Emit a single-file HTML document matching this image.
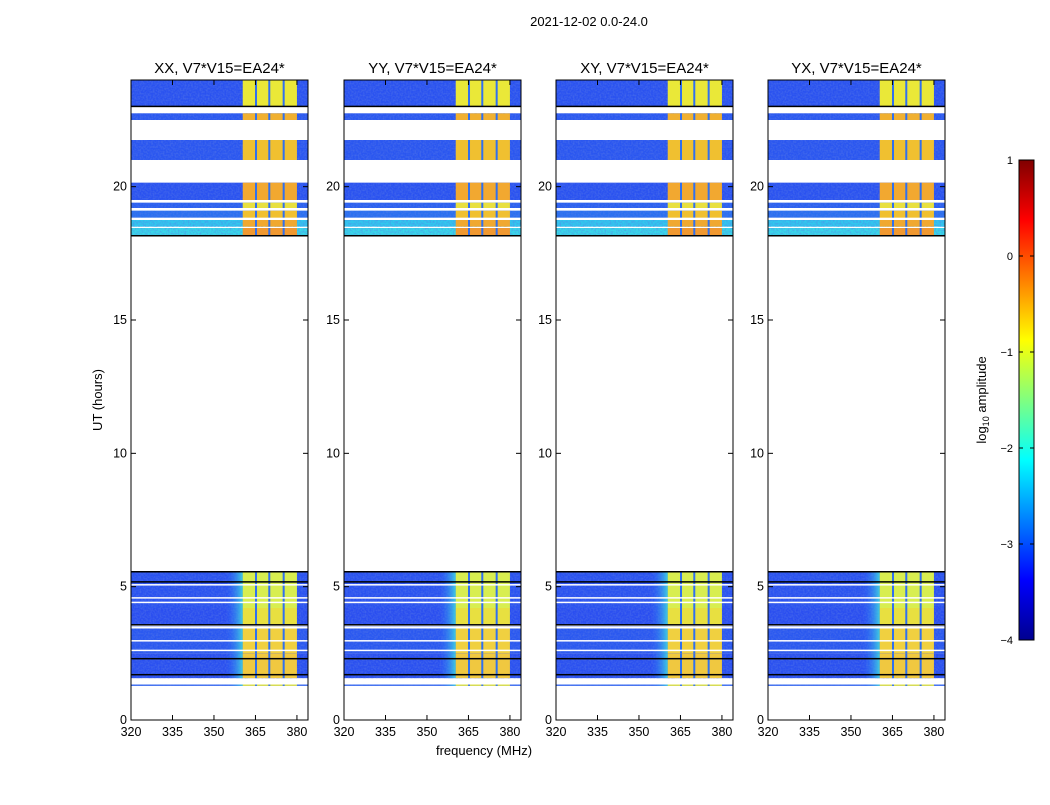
<!DOCTYPE html>
<html><head><meta charset="utf-8"><style>
body{margin:0;background:#fff;font-family:"Liberation Sans",sans-serif}
svg text{font-family:"Liberation Sans",sans-serif}
</style></head><body>
<svg id="c" width="1050" height="800" xmlns="http://www.w3.org/2000/svg">
<defs>
<linearGradient id="jet" x1="0" y1="1" x2="0" y2="0">
<stop offset="0" stop-color="#00008f"/><stop offset="0.125" stop-color="#0000ff"/>
<stop offset="0.375" stop-color="#00ffff"/><stop offset="0.5" stop-color="#80ff80"/>
<stop offset="0.625" stop-color="#ffff00"/><stop offset="0.875" stop-color="#ff0000"/>
<stop offset="1" stop-color="#800000"/></linearGradient>
<linearGradient id="edge" x1="0" x2="1"><stop offset="0" stop-color="#2a5cff" stop-opacity="0"/><stop offset="1" stop-color="#40d8e0" stop-opacity="0.9"/></linearGradient>
<filter id="noise" x="0" y="0" width="1" height="1"><feTurbulence type="fractalNoise" baseFrequency="0.6" numOctaves="1" seed="3"/><feColorMatrix values="0 0 0 0 0.1  0 0 0 0 0.2  0 0 0 0 0.8  0 0 0 1.4 -0.5"/></filter>
</defs>
<text x="589" y="26" font-size="13" text-anchor="middle">2021-12-02 0.0-24.0</text>
</svg>
<script>
const panelTitles=["XX, V7*V15=EA24*","YY, V7*V15=EA24*","XY, V7*V15=EA24*","YX, V7*V15=EA24*"];
const blockStart=[23.0,22.5,21.0,19.5,19.2,18.8,18.5,18.15,4.2,3.5,2.5,1.57,1.28];
const blockEnd  =[24.0,22.75,21.75,20.15,19.4,19.1,18.75,18.45,5.55,4.2,3.5,2.5,1.33];
const blockBase =["#2a52f0","#2a58f0","#2a56f0","#2a52f0","#2a60f0","#2a70f0","#30c8ee","#38d8e8","#2a52f0","#2a4ef0","#2a58f0","#2a50f0","#2a60f0"];
const blockBand =["#eae838","#f0b030","#f0c030","#f2a830","#e8e040","#f0c030","#f0a830","#f09830","#d8ee50","#e8e040","#f0d040","#f0c840","#e8e840"];
const blackLines=[23.0,18.15,5.55,5.17,3.56,2.29,1.69];
const whiteLines=[5.06,4.57,4.4,3.52,3.45,2.96,2.6,19.45,19.15,18.8];
const xTicks=[320,335,350,365,380];
const yTicks=[0,5,10,15,20];
const bandLo=360.4,bandHi=380.0,darkChans=[365.2,370,375.2];
const cbTicks=[1,0,-1,-2,-3,-4];
const NS="http://www.w3.org/2000/svg";
const svg=document.getElementById('c');
const px0=[131,344,556,768],pw=177,pTop=80,pBot=720;
const fx=(p,f)=>px0[p]+(f-320)/(384-320)*pw;
const fy=h=>pBot-(h/24)*(pBot-pTop);
function mk(t,a,par){const e=document.createElementNS(NS,t);for(const k in a)e.setAttribute(k,a[k]);(par||svg).appendChild(e);return e;}
panelTitles.forEach((t,p)=>{
  const g=mk('g',{});
  
  
  const x0=px0[p],x1=x0+pw;
  blockStart.forEach((s,i)=>{
    const y1=fy(blockEnd[i]),y2=fy(s);
    const r=mk('rect',{x:x0,y:y1,width:pw,height:y2-y1,fill:blockBase[i]},g);
    
    
    mk('rect',{x:x0,y:y1,width:pw,height:y2-y1,filter:'url(#noise)',opacity:0.8},g);
    if(s<6) mk('rect',{x:fx(p,354),y:y1,width:fx(p,bandLo)-fx(p,354),height:y2-y1,fill:'url(#edge)'},g);
    const b=mk('rect',{x:fx(p,bandLo),y:y1,width:fx(p,bandHi)-fx(p,bandLo),height:y2-y1,fill:blockBand[i]},g);
    
    
    darkChans.forEach(c=>mk('rect',{x:fx(p,c)-1,y:y1,width:2,height:y2-y1,fill:'#3070f0'},g));
  });
  whiteLines.forEach(h=>mk('rect',{x:x0,y:fy(h)-1,width:pw,height:1.5,fill:'#fff'},g));
  blackLines.forEach(h=>mk('rect',{x:x0,y:fy(h)-1,width:pw,height:1.5,fill:'#000'},g));
  const fr=mk('rect',{x:x0,y:pTop,width:pw,height:pBot-pTop,fill:'none',stroke:'#000','stroke-width':1});
  
  
  const tt=mk('text',{x:x0+pw/2,y:73,'font-size':15,'text-anchor':'middle'});
  tt.textContent=t;
  
  
  xTicks.forEach(v=>{const x=fx(p,v);
    mk('line',{x1:x,x2:x,y1:pBot,y2:pBot-5,stroke:'#000'});mk('line',{x1:x,x2:x,y1:pTop,y2:pTop+5,stroke:'#000'});
    const l=mk('text',{x:x,y:pBot+16,'font-size':12.5,'text-anchor':'middle'});l.textContent=v;
    
    });
  yTicks.forEach(v=>{const y=fy(v);
    mk('line',{x1:x0,x2:x0+5,y1:y,y2:y,stroke:'#000'});mk('line',{x1:x1,x2:x1-5,y1:y,y2:y,stroke:'#000'});
    const l=mk('text',{x:x0-4,y:y+4,'font-size':12.5,'text-anchor':'end'});l.textContent=v;
    
    });
});
let t=mk('text',{x:484,y:755,'font-size':13,'text-anchor':'middle'});t.textContent='frequency (MHz)';


t=mk('text',{x:0,y:0,'font-size':13,'text-anchor':'middle',transform:'translate(102,400) rotate(-90)'});t.textContent='UT (hours)';


const cb=mk('rect',{x:1019,y:160,width:15,height:480,fill:'url(#jet)',stroke:'#000'});


cbTicks.forEach(v=>{const y=160+(1-v)/5*480;
  mk('line',{x1:1019,x2:1023,y1:y,y2:y,stroke:'#000'});mk('line',{x1:1034,x2:1030,y1:y,y2:y,stroke:'#000'});
  const l=mk('text',{x:1013,y:y+4,'font-size':11,'text-anchor':'end'});l.textContent=(v<0?'\u2212'+(-v):v);
  
  });
t=mk('text',{x:0,y:0,'font-size':13,'text-anchor':'middle',transform:'translate(986,400) rotate(-90)'});
t.innerHTML='log<tspan font-size="9" dy="3">10</tspan><tspan dy="-3"> amplitude</tspan>';


</script>
</body></html>
